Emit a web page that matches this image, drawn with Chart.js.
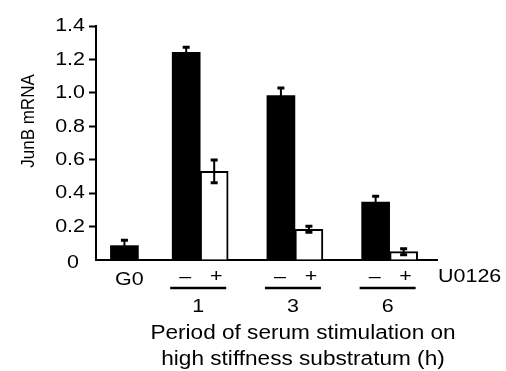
<!DOCTYPE html>
<html><head><meta charset="utf-8">
<script src="https://cdn.jsdelivr.net/npm/chart.js@4/dist/chart.umd.min.js"></script>
<style>html,body{margin:0;padding:0;background:#fff}#wrap{width:506px;height:371px}</style>
</head><body><div id="wrap"><canvas id="c" width="506" height="371"></canvas></div>
<script>
// ---- data ----
const groups = ['G0', '1', '3', '6'];
const minusU0126 = [0.086, 1.243, 0.984, 0.347];
const minusErr   = [0.032, 0.030, 0.045, 0.034];
const plusU0126  = [null, 0.530, 0.184, 0.050];
const plusErr    = [null, 0.068, 0.018, 0.018];
const yTicks = [0, 0.2, 0.4, 0.6, 0.8, 1.0, 1.2, 1.4];
const yTickLabels = ['0', '0.2', '0.4', '0.6', '0.8', '1.0', '1.2', '1.4'];
const signMinus = '\u2013', signPlus = '+';
const treatmentLabel = 'U0126';
const xTitle = ['Period of serum stimulation on', 'high stiffness substratum (h)'];
const yTitle = 'JunB mRNA';

// ---- layout (slot grid on the category axis) ----
const SLOTS = 18;
const groupSlot = [1, 5, 10, 15];

function spread(vals) {
  const out = new Array(SLOTS).fill(null);
  vals.forEach((v, i) => { out[groupSlot[i]] = v; });
  return out;
}
const slotLabels = spread(groups).map(v => v === null ? '' : v);
const FONT = '"Liberation Sans", Arial, Helvetica, sans-serif';
const SX = 1.13;

function stretchText(ctx, str, x, y, size, align, base) {
  ctx.save();
  ctx.font = size + 'px ' + FONT;
  ctx.fillStyle = '#000';
  ctx.textAlign = align || 'center';
  ctx.textBaseline = base || 'alphabetic';
  ctx.translate(x, y);
  ctx.scale(SX, 1);
  ctx.fillText(str, 0, 0);
  ctx.restore();
}

const errorBars = {
  id: 'errorBars',
  afterDatasetsDraw(chart) {
    const ctx = chart.ctx, ys = chart.scales.y;
    const errs = [spread(minusErr), spread(plusErr)];
    chart.data.datasets.forEach((ds, di) => {
      const meta = chart.getDatasetMeta(di);
      meta.data.forEach((bar, j) => {
        const v = ds.data[j], e = errs[di][j];
        if (v === null || e === null) return;
        const yt = ys.getPixelForValue(v + e), yb = ys.getPixelForValue(Math.max(0, v - e));
        ctx.save();
        ctx.strokeStyle = '#000';
        ctx.lineWidth = 2;
        ctx.beginPath(); ctx.moveTo(bar.x, yb); ctx.lineTo(bar.x, yt); ctx.stroke();
        ctx.lineWidth = 3;
        ctx.beginPath();
        ctx.moveTo(bar.x - 3.5, yt); ctx.lineTo(bar.x + 3.5, yt);
        ctx.moveTo(bar.x - 3.5, yb); ctx.lineTo(bar.x + 3.5, yb);
        ctx.stroke();
        ctx.restore();
      });
    });
  }
};

const annotations = {
  id: 'annotations',
  afterDraw(chart) {
    const ctx = chart.ctx, xs = chart.scales.x, ys = chart.scales.y;
    // y tick labels
    ys.ticks.forEach((t, i) => {
      const py = ys.getPixelForValue(t.value);
      const lab = yTickLabels[yTicks.indexOf(t.value)] ?? String(t.value);
      if (t.value === 0) stretchText(ctx, lab, ys.right - 17, py + 3, 19, 'right', 'middle');
      else stretchText(ctx, lab, ys.right - 11, py, 19, 'right', 'middle');
    });
    // y title
    ctx.save();
    ctx.font = '17px ' + FONT;
    ctx.fillStyle = '#000';
    ctx.textAlign = 'center';
    ctx.textBaseline = 'middle';
    ctx.translate(29, 121);
    ctx.rotate(-Math.PI / 2);
    ctx.scale(1, SX);
    ctx.fillText(yTitle, 0, 0);
    ctx.restore();
    // x category labels
    groups.forEach((g, i) => {
      const c = xs.getPixelForValue(groupSlot[i]);
      if (plusU0126[i] === null) {
        stretchText(ctx, g, c + 5, 285, 19);
        return;
      }
      stretchText(ctx, signMinus, c - 15, 282, 19);
      stretchText(ctx, signPlus, c + 16, 282, 19);
      ctx.save();
      ctx.strokeStyle = '#000';
      ctx.lineWidth = 2.5;
      ctx.beginPath(); ctx.moveTo(c - 30, 288); ctx.lineTo(c + 26, 288); ctx.stroke();
      ctx.restore();
      stretchText(ctx, g, c - 2, 312, 19);
    });
    stretchText(ctx, treatmentLabel, xs.right + 1, 282, 19, 'left');
    stretchText(ctx, xTitle[0], 303, 338.5, 20);
    stretchText(ctx, xTitle[1], 303, 364.5, 20);
  }
};

new Chart(document.getElementById('c'), {
  type: 'bar',
  data: {
    labels: slotLabels,
    datasets: [
      { label: '\u2013 U0126', data: spread(minusU0126), backgroundColor: '#000', borderColor: '#000', borderWidth: 0,
        barThickness: 28, skipNull: true },
      { label: '+ U0126', data: spread(plusU0126), backgroundColor: '#fff', borderColor: '#000', borderWidth: 2,
        barThickness: 28, skipNull: true }
    ]
  },
  options: {
    responsive: false,
    animation: false,
    devicePixelRatio: 1,
    layout: { padding: { top: 26, right: 69, bottom: 0, left: 0 } },
    plugins: { legend: { display: false }, tooltip: { enabled: false } },
    scales: {
      x: {
        type: 'category', offset: true,
        grid: { display: true, drawOnChartArea: false, drawTicks: false },
        border: { display: true, color: '#000', width: 2 },
        ticks: { display: false },
        afterFit: s => { s.height = 111; }
      },
      y: {
        min: 0, max: 1.4,
        afterBuildTicks: s => { s.ticks = yTicks.map(v => ({ value: v })); },
        ticks: { color: 'rgba(0,0,0,0)', font: { size: 19 }, padding: 3 },
        grid: { drawOnChartArea: false, drawTicks: true, tickLength: 7, tickWidth: 2,
                tickColor: c => (c.tick && c.tick.value === 0) ? 'rgba(0,0,0,0)' : '#000', color: '#000' },
        border: { display: true, color: '#000', width: 2 },
        afterFit: s => { s.width = 96; }
      }
    }
  },
  plugins: [errorBars, annotations]
});
</script></body></html>
